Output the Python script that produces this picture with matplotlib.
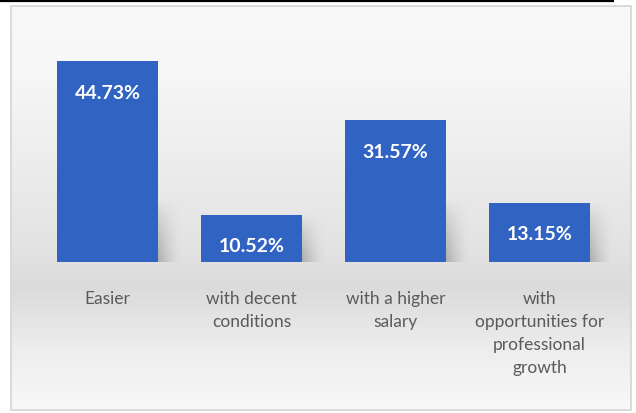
import numpy as np
import matplotlib.pyplot as plt
from matplotlib.patches import Rectangle
from matplotlib.lines import Line2D

categories = ['Easier', 'with decent\nconditions', 'with a higher\nsalary',
              'with\nopportunities for\nprofessional\ngrowth']
values = [44.73, 10.52, 31.57, 13.15]
value_labels = ['44.73%', '10.52%', '31.57%', '13.15%']

W, H = 636, 414
fig = plt.figure(figsize=(W / 100, H / 100), dpi=100)
fig.patch.set_facecolor('white')

# chart area with soft grey vertical gradient
bg = fig.add_axes([11 / W, 3 / H, 620 / W, 404 / H])
yy = np.linspace(0, 1, 400)
lv = np.interp(yy, [0, 0.15, 0.6, 0.7, 0.85, 1.0], [0.975, 0.97, 0.89, 0.86, 0.93, 0.975])
grad = np.repeat(lv[:, None], 10, axis=1)
bg.imshow(np.dstack([grad, grad, grad]), aspect='auto', extent=[0, 1, 0, 1], origin='upper')
bg.set_xlim(0, 1)
bg.set_ylim(0, 1)
bg.axis('off')
fig.add_artist(Rectangle((11 / W, 3 / H), 620 / W, 404 / H, transform=fig.transFigure,
                         fill=False, edgecolor='#d4d4d4', lw=1.2))
fig.add_artist(Line2D([0, 613 / W], [1 - 1.5 / H, 1 - 1.5 / H], transform=fig.transFigure,
                      color='black', lw=1.6))

ax = fig.add_axes([35.5 / W, 1 - 263 / H, 576 / W, 224.5 / H])
ax.patch.set_alpha(0)
x = np.arange(len(values))
width = 0.70

# drop shadows beside the bars
for xi, v in zip(x, values):
    sh_h = min(v, 14)
    nx, ny = 40, 40
    gx = np.linspace(1, 0, nx)[None, :] ** 1.5
    gy = np.linspace(0, 1, ny)[:, None] ** 0.8
    rgba = np.zeros((ny, nx, 4))
    rgba[..., :3] = 0.55
    rgba[..., 3] = 0.6 * gx * gy
    ax.imshow(rgba, extent=[xi + width / 2, xi + width / 2 + 0.16, 0, sh_h],
              aspect='auto', origin='upper', zorder=1, interpolation='bilinear')

bars = ax.bar(x, values, width=width, color='#3163c2', zorder=2)

for b, lab in zip(bars, value_labels):
    ax.annotate(lab, (b.get_x() + b.get_width() / 2, b.get_height()),
                xytext=(0, -31), textcoords='offset pixels', ha='center', va='center',
                color='white', fontsize=14, fontweight='bold',
                family=['Lato', 'DejaVu Sans'], zorder=3)

ax.set_xlim(-0.5, 3.5)
ax.set_ylim(0, 50)
ax.set_xticks(x)
ax.set_xticklabels(categories, fontsize=12.5, color='#5a5a5a', linespacing=1.55,
                   family=['Lato', 'DejaVu Sans'], va='top')
ax.tick_params(axis='x', length=0, pad=20)
ax.set_yticks([])
for s in ax.spines.values():
    s.set_visible(False)

fig.savefig('out.png', dpi=100)
